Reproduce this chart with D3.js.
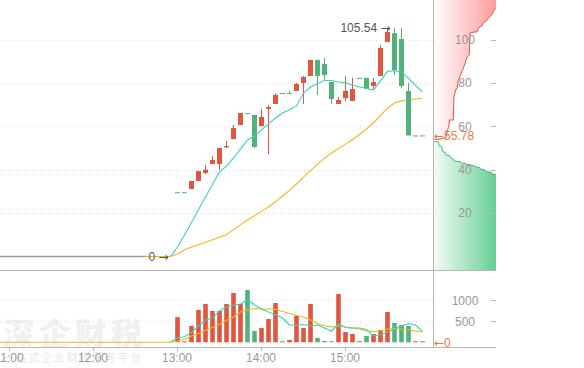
<!DOCTYPE html>
<html><head><meta charset="utf-8">
<script src="https://cdn.jsdelivr.net/npm/d3@7"></script>
<style>html,body{margin:0;padding:0;background:#fff;} svg{display:block;font-family:"Liberation Sans",Arial,sans-serif;}</style>
</head><body><svg id="c" width="584" height="368"></svg>
<script>
// ---------- data ----------
const candleTimes = ["13:00","13:05","13:10","13:15","13:20","13:25","13:30","13:35","13:40","13:45","13:50","13:55",
  "14:00","14:05","14:10","14:15","14:20","14:25","14:30","14:35","14:40","14:45","14:50","14:55",
  "15:00","15:05","15:10","15:15","15:20","15:25","15:30","15:35","15:40","15:45","15:50","15:55"];
const openVals  = [29.6,29.6,31.1,34.8,38.5,42.6,42.6,50.3,54.1,60.6,66.1,65.2,60.1,68.0,70.3,75.3,75.3,76.3,80.0,83.2,90.6,88.7,80.4,70.3,73.0,71.7,82.3,82.3,78.6,83.2,98.9,102.9,100.2,76.3,55.78,55.78];
const highVals  = [29.6,29.6,34.8,39.4,42.2,46.3,50.0,53.2,60.6,66.1,66.1,65.2,68.0,69.8,75.3,75.3,76.3,80.0,83.2,90.6,90.6,91.5,80.4,73.5,83.2,82.3,82.3,82.3,82.3,97.5,104.8,105.54,105.3,80.0,55.78,55.78];
const lowVals   = [29.6,29.6,31.1,34.8,38.0,42.6,39.9,50.0,54.1,60.6,66.0,50.0,60.1,47.2,70.3,75.3,75.3,76.3,70.3,83.2,74.4,80.9,70.3,70.3,71.7,71.7,82.3,77.2,77.2,83.2,98.9,83.6,77.6,55.78,55.78,55.78];
const closeVals = [29.6,29.6,34.8,39.4,40.0,44.5,50.0,50.9,59.2,66.1,66.0,50.5,64.3,68.9,74.4,75.3,75.3,79.5,82.7,90.6,83.2,83.6,72.6,72.1,76.3,77.2,82.3,77.2,80.4,96.1,103.5,85.9,78.6,55.78,55.78,55.78];
const volumeVals = [600,20,390,770,912,745,745,912,1174,912,1245,270,340,555,936,20,55,627,340,912,103,32,10,1150,246,198,10,150,198,293,722,460,413,390,0,0];

const maTimes = ["12:55"].concat(candleTimes);
const ma10Times = ["10:50"].concat(maTimes);
const priceMA5 = [0,4.4,9.9,15.7,21.5,27.4,33.2,39.0,41.7,45.4,49.5,53.7,55.5,58.3,61.1,63.8,66.1,67.6,69.4,75.3,78.1,79.7,81.1,81.1,80.4,80.0,79.0,78.1,77.4,76.7,80.9,85.3,85.6,85.0,82.1,78.8,75.9];
const priceMA10 = [0,0,1.2,3.1,4.4,5.4,6.6,7.7,8.9,10.1,12.4,14.7,16.8,18.8,20.8,22.8,25.2,27.9,30.5,33.4,36.6,39.6,42.6,45.2,47.7,49.8,51.8,53.9,56.2,58.8,61.5,65.2,68.4,70.7,71.7,72.2,72.6,72.9];
const volMA5 = [0,110,130,233,388,530,578,745,840,888,911,1007,888,793,721,662,578,412,412,424,388,412,340,269,436,352,340,340,305,150,174,245,317,388,447,412,257];
const volMA10 = [0,0,30,67,150,209,281,352,436,519,602,721,769,804,793,793,785,733,685,638,602,531,447,388,364,388,364,340,317,269,257,269,317,328,317,293,269,245];

const askPrices  = [54.0,54.0,54.0,54.9,57.5,60.6,62.9,62.9,73.6,76.7,78.0,81.3,82.9,85.2,86.7,89.0,90.6,91.8,92.9,102.9,103.3,103.6,105.4,106.2,107.5,108.7,109.8,111.3,112.8,113.9,114.4];
const askAmounts = [0,2,11,20.6,22.7,25.4,25.9,32.2,33.3,36,38.6,40.2,42.9,45.6,48.1,50.8,52.4,54.4,57.6,58.7,63,70.3,71.9,77.3,79.8,85.2,87.8,93.2,95.7,98.4,100];
const bidPrices  = [52.9,52.9,50.9,50.6,48.3,48.0,46.8,46.3,45.3,44.8,44.0,43.7,43.1,42.8,42.5,42.0,41.4,40.9,40.2,39.9,39.1,38.8,38.0,37.9];
const bidAmounts = [0,8.4,10,13.8,15.4,19,20.6,27,28.6,32.2,33.8,42.9,45.6,50.8,53.5,64,66.7,74.6,75.7,82.5,85.2,93.2,93.2,100];

const priceTicks = [20,40,60,80,100];
const volTicks = [500,1000];
const timeTicks = ["11:00","12:00","13:00","14:00","15:00"];
const lastPrice = 55.78, maxPrice = 105.54, minPrice = 0, maxTime = "15:35", minTime = "12:55";

// ---------- setup ----------
const RED = "#e0563f", GREEN = "#51b27a", TEAL = "#3ad3b6", ORANGE = "#f9b417", AX = "#b8b8b8";
const T = s => { const [h,m] = s.split(":").map(Number); return new Date(2024,0,2,h,m); };
const svg = d3.select("#c");
const x = d3.scaleTime().domain([T("11:00"), T("15:00")]).range([9, 345]);
const y = d3.scaleLinear().domain([0,100]).range([256.5, 39.5]);
const vy = d3.scaleLinear().domain([0,1000]).range([342.3, 300.3]);
const dx = d3.scaleLinear().domain([0,100]).range([433, 496]);
const R = 433;

const defs = svg.append("defs");
defs.append("clipPath").attr("id","cm").append("rect").attr("x",0).attr("y",0).attr("width",R).attr("height",270);
defs.append("clipPath").attr("id","cv").append("rect").attr("x",0).attr("y",271).attr("width",R).attr("height",76);
defs.append("clipPath").attr("id","cd").append("rect").attr("x",R).attr("y",0).attr("width",63).attr("height",270);
const gr = defs.append("linearGradient").attr("id","gr").attr("gradientUnits","userSpaceOnUse").attr("x1",R).attr("x2",496).attr("y1",0).attr("y2",0);
gr.append("stop").attr("offset",0).attr("stop-color","#ffffff");
gr.append("stop").attr("offset",1).attr("stop-color","#ff9c9c");
const gg = defs.append("linearGradient").attr("id","gg").attr("gradientUnits","userSpaceOnUse").attr("x1",R).attr("x2",496).attr("y1",0).attr("y2",0);
gg.append("stop").attr("offset",0).attr("stop-color","#f6fcf8");
gg.append("stop").attr("offset",1).attr("stop-color","#66cf93");

// watermark
svg.append("text").attr("x",3).attr("y",345).attr("font-family","'Noto Sans CJK SC'").attr("font-weight",900)
  .attr("font-size",31).attr("letter-spacing",5).attr("fill","#f0f0f0").text("深企财税");
svg.append("text").attr("x",3).attr("y",362).attr("font-family","'Noto Sans CJK SC'")
  .attr("font-size",11).attr("letter-spacing",1.7).attr("fill","#e8e8e8").text("一站式企业财税服务平台");

// gridlines
priceTicks.forEach(t => svg.append("line").attr("x1",0).attr("x2",R).attr("y1",Math.round(y(t))+0.5).attr("y2",Math.round(y(t))+0.5)
  .attr("stroke","#dcdcdc").attr("stroke-dasharray","1,3"));
volTicks.forEach(t => svg.append("line").attr("x1",0).attr("x2",R).attr("y1",Math.round(vy(t))+0.5).attr("y2",Math.round(vy(t))+0.5)
  .attr("stroke","#dcdcdc").attr("stroke-dasharray","1,3"));

// depth profile
const dg = svg.append("g").attr("clip-path","url(#cd)");
const askPts = askPrices.map((p,i)=>({p, a:askAmounts[i]}));
const bidPts = bidPrices.map((p,i)=>({p, a:bidAmounts[i]}));
const topP = y.invert(-2), botP = y.invert(272);
const area = d3.area().y(d=>y(d.p)).x0(R).x1(d=>dx(d.a));
dg.append("path").attr("d", area(askPts.concat([{p:topP, a:100}]))).attr("fill","url(#gr)");
dg.append("path").attr("d", area(bidPts.concat([{p:botP, a:100}]))).attr("fill","url(#gg)");
const dline = d3.line().x(d=>dx(d.a)).y(d=>y(d.p));
dg.append("path").attr("d", dline(askPts.slice(1))).attr("fill","none").attr("stroke",RED).attr("stroke-width",1);
dg.append("path").attr("d", dline(bidPts)).attr("fill","none").attr("stroke",GREEN).attr("stroke-width",1);

// axes frame
svg.append("line").attr("x1",R+0.5).attr("x2",R+0.5).attr("y1",0).attr("y2",347.5).attr("stroke",AX);
svg.append("line").attr("x1",0).attr("x2",496).attr("y1",270.5).attr("y2",270.5).attr("stroke",AX);
svg.append("line").attr("x1",0).attr("x2",496).attr("y1",347.5).attr("y2",347.5).attr("stroke",AX);
priceTicks.forEach(t => svg.append("line").attr("x1",491).attr("x2",496).attr("y1",Math.round(y(t))+0.5).attr("y2",Math.round(y(t))+0.5).attr("stroke",AX));
volTicks.forEach(t => svg.append("line").attr("x1",491).attr("x2",496).attr("y1",Math.round(vy(t))+0.5).attr("y2",Math.round(vy(t))+0.5).attr("stroke",AX));
timeTicks.forEach(t => svg.append("line").attr("x1",Math.round(x(T(t)))+0.5).attr("x2",Math.round(x(T(t)))+0.5).attr("y1",347.5).attr("y2",351).attr("stroke",AX));

// main panel
const mg = svg.append("g").attr("clip-path","url(#cm)");
const cx = t => x(T(t)) + 0.5;
const maLine = (times, vals, ys) => d3.line().x((d,i)=>x(T(times[i]))+0.5).y(d=>ys(d))(vals);
mg.append("path").attr("d", maLine(ma10Times, priceMA10, y)).attr("fill","none").attr("stroke",ORANGE).attr("stroke-width",1.1);
mg.append("line").attr("x1",0).attr("x2",145).attr("y1",y(0)).attr("y2",y(0)).attr("stroke","#9a9a9a").attr("stroke-width",1.6);
candleTimes.forEach((t,i) => {
  const o=openVals[i], h=highVals[i], l=lowVals[i], c=closeVals[i];
  const col = c > o ? RED : GREEN;
  const xc = cx(t);
  if (h > l) mg.append("line").attr("x1",xc).attr("x2",xc).attr("y1",y(h)).attr("y2",y(l)).attr("stroke",col).attr("stroke-width",1);
  const top = y(Math.max(o,c)), hh = Math.max(1, Math.abs(y(o)-y(c)));
  mg.append("rect").attr("x",xc-2.5).attr("y",top).attr("width",5).attr("height",hh).attr("fill",col);
});
mg.append("path").attr("d", maLine(maTimes, priceMA5, y)).attr("fill","none").attr("stroke",TEAL).attr("stroke-width",1.1);

// volume panel
const vg = svg.append("g").attr("clip-path","url(#cv)");
candleTimes.forEach((t,i) => {
  const col = closeVals[i] >= openVals[i] ? RED : GREEN;
  const v = volumeVals[i];
  const hh = Math.max(1, vy(0)-vy(v));
  vg.append("rect").attr("x",cx(t)-2.3).attr("y",vy(0)-hh).attr("width",4.6).attr("height",hh).attr("fill",col);
});
vg.append("path").attr("d", maLine(ma10Times, volMA10, vy)).attr("fill","none").attr("stroke",ORANGE).attr("stroke-width",1.1);
vg.append("path").attr("d", maLine(maTimes, volMA5, vy)).attr("fill","none").attr("stroke",TEAL).attr("stroke-width",1.1);

// labels
const lab = (xx,yy,txt,col,anchor) => svg.append("text").attr("x",xx).attr("y",yy).attr("dy","0.35em")
  .attr("text-anchor",anchor||"start").attr("font-size",12).attr("fill",col).text(txt);
const arrowLab = (xx,yy,pre,post,col,anchor) => {
  const t = svg.append("text").attr("x",xx).attr("y",yy).attr("dy","0.35em")
    .attr("text-anchor",anchor||"start").attr("font-size",12).attr("fill",col);
  [pre, post].forEach(p => {
    if (!p) return;
    const isArrow = p === "→" || p === "←";
    t.append("tspan").attr("font-family", isArrow ? "'DejaVu Sans'" : null).attr("font-size", isArrow ? 12 : null).text(p);
  });
};
priceTicks.forEach(t => lab(465, y(t), d3.format("d")(t), "#999", "middle"));
volTicks.forEach(t => lab(465, vy(t), d3.format("d")(t), "#999", "middle"));
timeTicks.forEach(t => lab(x(T(t)), 358, t, "#999", "middle"));
arrowLab(cx(maxTime)-4, y(maxPrice), maxPrice.toFixed(2)+" ", "→", "#555", "end");
arrowLab(cx(minTime)-2, y(minPrice), d3.format("d")(minPrice)+" ", "→", "#555", "end");
arrowLab(434, y(lastPrice), "←", lastPrice.toFixed(2), "#f37a3c");
arrowLab(434, vy(0), "←", "0", "#f37a3c");
</script></body></html>
